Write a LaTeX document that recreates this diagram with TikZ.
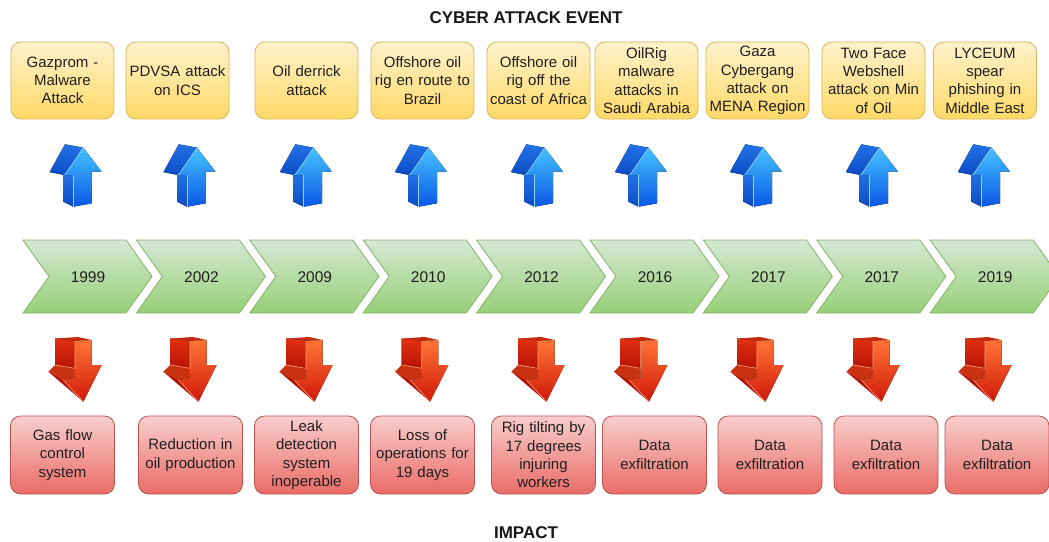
\documentclass[tikz,border=0pt]{standalone}
\usepackage{fontspec}
\setmainfont{Liberation Sans}
\begin{document}
\begin{tikzpicture}[x=1pt,y=-1pt,
  boxtext/.style={align=center, text width=100pt, inner sep=0pt,
    font=\fontsize{15}{18.3}\selectfont, text=black!88},
  evt/.style={boxtext, draw=evtline, line width=0.8pt, rounded corners=10pt,
    top color=evttop, bottom color=evtbot, minimum width=103pt, minimum height=77pt},
  imp/.style={boxtext, draw=impline, line width=0.8pt, rounded corners=10pt,
    top color=imptop, bottom color=impbot, minimum width=104pt, minimum height=78pt},
  yeartext/.style={font=\fontsize{15.5}{18}\selectfont, text=black!88, inner sep=0pt},
  chevron/.style={draw=chevline, line width=0.8pt, top color=chevtop, bottom color=chevbot},
  titletext/.style={font=\fontsize{17}{20}\selectfont\bfseries, text=black!90, inner sep=0pt},
  uparr/.pic={
    % side face of head
    \fill[top color=bluesideA, bottom color=bluesideB] (-11.7,-3.4) -- (6.6,0) -- (-12,27.3) -- (-27,24.3) -- cycle;
    % under wing strip
    \fill[bluedark] (-27,24.3) -- (-12,27.3) -- (-3.4,27.3) -- (-13.4,25.3) -- cycle;
    % shaft side
    \fill[top color=bluesideA, bottom color=bluesideB] (-13.4,25.3) -- (-3.4,27.3) -- (-3.4,59) -- (-13.4,54) -- cycle;
    % front face
    \fill[top color=bluefrontA, bottom color=bluefrontB] (6.6,0) -- (25,24) -- (15,24) -- (15,55.6) -- (-3.4,59) -- (-3.4,27.3) -- (-12,27.3) -- cycle;
    \draw[bluehl, line width=0.7pt] (6.6,0) -- (-12,27.3);
    \draw[bluehl, line width=0.7pt] (-3.4,27.3) -- (-3.4,59);
  },
  downarr/.pic={
    % top face
    \fill[redtopface] (-20,0.5) -- (3,-1) -- (16.7,2) -- (0,3) -- cycle;
    % shaft side
    \fill[top color=redsideA, bottom color=redsideB] (-20,0.5) -- (0,3) -- (0,30.3) -- (-20,27) -- cycle;
    % wing top face
    \fill[redwing] (-26.7,33.7) -- (-20,27) -- (0,30.3) -- (0,40.3) -- (-11.7,42) -- cycle;
    % head side
    \fill[redheadside] (-26.7,33.7) -- (-11.7,42) -- (8.3,63.7) -- cycle;
    % front face
    \fill[top color=redfrontA, bottom color=redfrontB] (0,3) -- (16.7,2) -- (16.7,27) -- (26.7,27) -- (8.3,63.7) -- (-11.7,42) -- (0,40.3) -- cycle;
    \draw[redhl, line width=0.6pt] (-20,27) -- (0,30.3) -- (0,3);
    \draw[redhl, line width=0.6pt] (-11.7,42) -- (8.3,63.7);
  }
]
\definecolor{evttop}{HTML}{FFF2CC}
\definecolor{evtbot}{HTML}{FFD966}
\definecolor{evtline}{HTML}{D6B656}
\definecolor{imptop}{HTML}{F8CECC}
\definecolor{impbot}{HTML}{EA6B66}
\definecolor{impline}{HTML}{B85450}
\definecolor{chevtop}{HTML}{D5E8D4}
\definecolor{chevbot}{HTML}{97D077}
\definecolor{chevline}{HTML}{82B366}
\definecolor{bluesideA}{HTML}{2272E6}
\definecolor{bluesideB}{HTML}{0C4CC6}
\definecolor{bluedark}{HTML}{0A45B5}
\definecolor{bluefrontA}{HTML}{45C2FF}
\definecolor{bluefrontB}{HTML}{0A58E6}
\definecolor{bluehl}{HTML}{8ED2FF}
\definecolor{redtopface}{HTML}{C8280E}
\definecolor{redsideA}{HTML}{E2300F}
\definecolor{redsideB}{HTML}{B61406}
\definecolor{redwing}{HTML}{C93210}
\definecolor{redheadside}{HTML}{B31206}
\definecolor{redfrontA}{HTML}{FF7434}
\definecolor{redfrontB}{HTML}{D0180A}
\definecolor{redhl}{HTML}{FF9C74}

\useasboundingbox (0,0) rectangle (1049,541);
\fill[white] (0,0) rectangle (1049,541);

\node[titletext] (ttop) at (526,18) {CYBER ATTACK EVENT};
\node[titletext] (tbot) at (526,533) {IMPACT};

% event boxes
\node[evt] (e1) at (62.5,80.5) {Gazprom -\\Malware\\Attack};
\node[evt] (e2) at (177.5,80.5) {PDVSA attack\\on ICS};
\node[evt] (e3) at (306.5,80.5) {Oil derrick\\attack};
\node[evt] (e4) at (422.5,80.5) {Offshore oil\\rig en route to\\Brazil};
\node[evt] (e5) at (538.5,80.5) {Offshore oil\\rig off the\\coast of Africa};
\node[evt] (e6) at (646.5,80.5) {OilRig\\malware\\attacks in\\Saudi Arabia};
\node[evt] (e7) at (757.5,80.5) {Gaza\\Cybergang\\attack on\\MENA Region};
\node[evt] (e8) at (873.5,80.5) {Two Face\\Webshell\\attack on Min\\of Oil};
\node[evt] (e9) at (985,80.5) {LYCEUM\\spear\\phishing in\\Middle East};

% up arrows
\foreach \cx in {76.7,190.5,307,422,538,642,757,873,985}
  \pic at (\cx,147.7) {uparr};

% chevrons
\foreach \yr [count=\i from 0] in {1999,2002,2009,2010,2012,2016,2017,2017,2019} {
  \pgfmathsetmacro\L{23+113.4*\i}
  \draw[chevron] (\L,240) -- (\L+103,240) -- (\L+129,276.5) -- (\L+103,313) -- (\L,313) -- (\L+26,276.5) -- cycle;
  \node[yeartext] (y\i) at (\L+65,277) {\yr};
}

% down arrows
\foreach \cx in {75,190,306,421.7,538,640.7,757,873,985}
  \pic at (\cx,338) {downarr};

% impact boxes
\node[imp] (i1) at (62.5,455) {Gas flow\\control\\system};
\node[imp] (i2) at (190.5,455) {Reduction in\\oil production};
\node[imp] (i3) at (306.5,455) {Leak\\detection\\system\\inoperable};
\node[imp] (i4) at (422.5,455) {Loss of\\operations for\\19 days};
\node[imp] (i5) at (543.5,455) {Rig tilting by\\17 degrees\\injuring\\workers};
\node[imp] (i6) at (654.5,455) {Data\\exfiltration};
\node[imp] (i7) at (770,455) {Data\\exfiltration};
\node[imp] (i8) at (886,455) {Data\\exfiltration};
\node[imp] (i9) at (997,455) {Data\\exfiltration};
\end{tikzpicture}
\end{document}
